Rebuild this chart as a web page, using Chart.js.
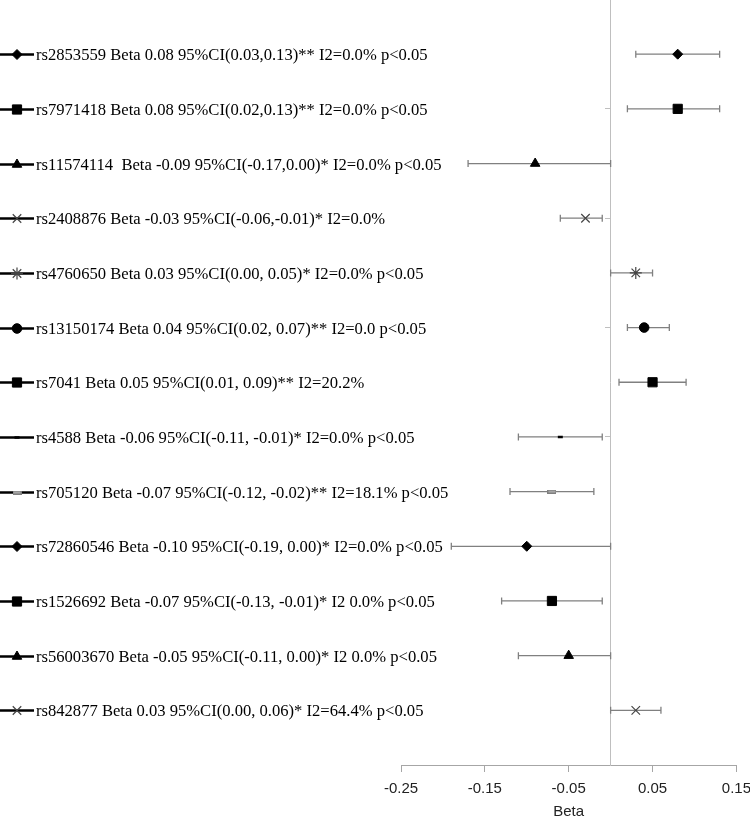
<!DOCTYPE html>
<html>
<head>
<meta charset="utf-8">
<script src="https://cdn.jsdelivr.net/npm/chart.js@4.4.1/dist/chart.umd.min.js"></script>
<style>
  html, body { margin: 0; padding: 0; background: #fff; overflow: hidden; }
  #wrap { position: relative; width: 759px; height: 832px; margin-top: -8px; }
</style>
</head>
<body>
<div id="wrap"><canvas id="forestChart"></canvas></div>
<script>
// Data, top row first
const snps = ['rs2853559', 'rs7971418', 'rs11574114', 'rs2408876', 'rs4760650', 'rs13150174', 'rs7041',
              'rs4588', 'rs705120', 'rs72860546', 'rs1526692', 'rs56003670', 'rs842877'];
const legendLabels = [
  'rs2853559 Beta 0.08 95%CI(0.03,0.13)** I2=0.0% p<0.05',
  'rs7971418 Beta 0.08 95%CI(0.02,0.13)** I2=0.0% p<0.05',
  'rs11574114  Beta -0.09 95%CI(-0.17,0.00)* I2=0.0% p<0.05',
  'rs2408876 Beta -0.03 95%CI(-0.06,-0.01)* I2=0.0%',
  'rs4760650 Beta 0.03 95%CI(0.00, 0.05)* I2=0.0% p<0.05',
  'rs13150174 Beta 0.04 95%CI(0.02, 0.07)** I2=0.0 p<0.05',
  'rs7041 Beta 0.05 95%CI(0.01, 0.09)** I2=20.2%',
  'rs4588 Beta -0.06 95%CI(-0.11, -0.01)* I2=0.0% p<0.05',
  'rs705120 Beta -0.07 95%CI(-0.12, -0.02)** I2=18.1% p<0.05',
  'rs72860546 Beta -0.10 95%CI(-0.19, 0.00)* I2=0.0% p<0.05',
  'rs1526692 Beta -0.07 95%CI(-0.13, -0.01)* I2 0.0% p<0.05',
  'rs56003670 Beta -0.05 95%CI(-0.11, 0.00)* I2 0.0% p<0.05',
  'rs842877 Beta 0.03 95%CI(0.00, 0.06)* I2=64.4% p<0.05'
];
const betas  = [0.08, 0.08, -0.09, -0.03, 0.03, 0.04, 0.05, -0.06, -0.07, -0.10, -0.07, -0.05, 0.03];
const ciLow  = [0.03, 0.02, -0.17, -0.06, 0.00, 0.02, 0.01, -0.11, -0.12, -0.19, -0.13, -0.11, 0.00];
const ciHigh = [0.13, 0.13,  0.00, -0.01, 0.05, 0.07, 0.09, -0.01, -0.02,  0.00, -0.01,  0.00, 0.06];
const rows   = [13, 12, 11, 10, 9, 8, 7, 6, 5, 4, 3, 2, 1];
const xTicks = [-0.25, -0.15, -0.05, 0.05, 0.15];

// small grey bar marker used by rs705120
const barMarker = document.createElement('canvas');
barMarker.width = 9; barMarker.height = 4;
(() => {
  const c = barMarker.getContext('2d');
  c.fillStyle = '#a6a6a6';
  c.fillRect(0, 0, 9, 4);
  c.strokeStyle = '#7f7f7f';
  c.lineWidth = 1;
  c.strokeRect(0.5, 0.5, 8, 3);
})();

// marker looks, one per series
const markerStyles = [
  { pointStyle: 'rectRot',  radius: 5,   color: '#000' },
  { pointStyle: 'rect',     radius: 6.5, color: '#000' },
  { pointStyle: 'triangle', radius: 5.5, color: '#000' },
  { pointStyle: 'crossRot', radius: 6,   color: '#444', width: 1.2 },
  { pointStyle: 'star',     radius: 6,   color: '#444', width: 1.2 },
  { pointStyle: 'circle',   radius: 4.8, color: '#000' },
  { pointStyle: 'rect',     radius: 6.5, color: '#000' },
  { pointStyle: 'line',     radius: 2.5, color: '#000', width: 2.5 },
  { pointStyle: barMarker,  radius: 4,   color: '#7f7f7f' },
  { pointStyle: 'rectRot',  radius: 5,   color: '#000' },
  { pointStyle: 'rect',     radius: 6.5, color: '#000' },
  { pointStyle: 'triangle', radius: 5.5, color: '#000' },
  { pointStyle: 'crossRot', radius: 6,   color: '#444', width: 1.2 }
];

// Error bars, drawn under the markers
const errorBars = {
  id: 'errorBars',
  beforeDatasetsDraw(chart) {
    const { ctx, scales: { x, y } } = chart;
    ctx.save();
    ctx.strokeStyle = '#808080';
    ctx.lineWidth = 1.3;
    rows.forEach((row, i) => {
      const py = y.getPixelForValue(row);
      const x1 = x.getPixelForValue(ciLow[i]);
      const x2 = x.getPixelForValue(ciHigh[i]);
      ctx.beginPath();
      ctx.moveTo(x1, py); ctx.lineTo(x2, py);
      ctx.moveTo(x1, py - 3.5); ctx.lineTo(x1, py + 3.5);
      ctx.moveTo(x2, py - 3.5); ctx.lineTo(x2, py + 3.5);
      ctx.stroke();
    });
    ctx.restore();
  }
};

// Excel-style legend on the left, one entry level with each row
const sideLegend = {
  id: 'sideLegend',
  afterDraw(chart) {
    const { ctx, scales: { y } } = chart;
    ctx.save();
    ctx.font = '16.6px "Liberation Serif", "Times New Roman", serif';
    ctx.textBaseline = 'middle';
    rows.forEach((row, i) => {
      const py = Math.round(y.getPixelForValue(row)) + 0.5;
      const m = markerStyles[i];
      ctx.strokeStyle = '#000';
      ctx.lineWidth = 2.5;
      ctx.beginPath();
      ctx.moveTo(0, py); ctx.lineTo(34, py);
      ctx.stroke();
      ctx.fillStyle = m.color;
      ctx.strokeStyle = m.color;
      ctx.lineWidth = m.width || 1;
      Chart.helpers.drawPoint(ctx, { pointStyle: m.pointStyle, radius: m.radius, rotation: 0, borderWidth: m.width || 1 }, 17, py);
      ctx.fillStyle = '#000';
      ctx.fillText(legendLabels[i], 36, py + 1);
    });
    ctx.restore();
  }
};

const datasets = snps.map((name, i) => ({
  label: name,
  data: [{ x: betas[i], y: rows[i] }],
  pointStyle: markerStyles[i].pointStyle,
  pointRadius: markerStyles[i].radius,
  backgroundColor: markerStyles[i].color,
  borderColor: markerStyles[i].color,
  borderWidth: markerStyles[i].width || 1
}));

const axisFont = { family: '"Liberation Sans", Arial, sans-serif', size: 15 };

const ctx = document.getElementById('forestChart').getContext('2d');
new Chart(ctx, {
  type: 'scatter',
  data: { datasets },
  options: {
    responsive: true,
    maintainAspectRatio: false,
    animation: false,
    layout: { padding: { left: 401, right: 0, top: 0, bottom: 0 } },
    plugins: {
      legend: { display: false },
      tooltip: { enabled: false }
    },
    scales: {
      x: {
        type: 'linear',
        min: -0.25,
        max: 0.15,
        afterBuildTicks: axis => { axis.ticks = xTicks.map(v => ({ value: v })); },
        grid: { drawOnChartArea: false, drawTicks: true, tickLength: 7, color: '#a6a6a6' },
        border: { color: '#a6a6a6', width: 1 },
        ticks: {
          color: '#222',
          font: axisFont,
          padding: 8,
          maxRotation: 0,
          callback: v => v.toFixed(2)
        },
        title: {
          display: true,
          text: 'Beta',
          color: '#222',
          font: axisFont,
          padding: { top: -3, bottom: 3 }
        }
      },
      y: {
        type: 'linear',
        min: 0,
        max: 14,
        position: { x: 0 },
        ticks: { stepSize: 2, display: false },
        grid: { drawOnChartArea: false, drawTicks: true, tickLength: 5, color: '#bfbfbf' },
        border: { color: '#bfbfbf', width: 1 }
      }
    }
  },
  plugins: [errorBars, sideLegend]
});
</script>
</body>
</html>
